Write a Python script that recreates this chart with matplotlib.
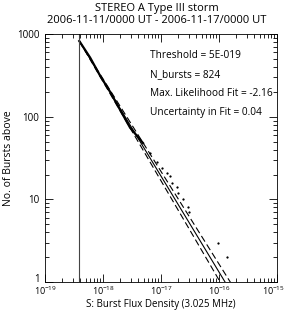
import numpy as np
import matplotlib.pyplot as plt
import matplotlib.transforms as mtransforms
from matplotlib.ticker import LogLocator, NullFormatter, FixedLocator

# cumulative distribution
curve_flux = [3.9e-19, 6.0e-19, 8.9e-19, 1.32e-18, 1.96e-18, 2.92e-18, 4.9e-18]
curve_count = [824, 519, 314, 201, 122, 74, 48]

tail_flux = [6.46e-18, 8.5e-18, 1.04e-17, 1.27e-17, 1.43e-17, 1.55e-17, 1.89e-17,
             1.96e-17, 2.39e-17, 2.92e-17, 2.99e-17, 9.6e-17, 1.37e-16]
tail_count = [36, 28, 24, 21, 19, 16, 14, 12, 10, 8, 7, 3, 2]

threshold = 3.9e-19
n_bursts = 824
fit_index = 2.16
fit_err = 0.04

x_ticks = [1e-19, 1e-18, 1e-17, 1e-16, 1e-15]
x_labels = ['$10^{-19}$', '$10^{-18}$', '$10^{-17}$', '$10^{-16}$', '$10^{-15}$']
y_ticks = [1, 10, 100, 1000]
y_labels = ['1', '10', '100', '1000']

plt.rcParams['font.family'] = ['Open Sans', 'DejaVu Sans']
plt.rcParams['mathtext.fontset'] = 'custom'
plt.rcParams['mathtext.rm'] = 'Open Sans'
plt.rcParams['mathtext.it'] = 'Open Sans'

fig = plt.figure(figsize=(2.85, 3.10), dpi=100)
ax = fig.add_axes([0.158, 0.090, 0.814, 0.800])

ax.set_xscale('log')
ax.set_yscale('log')
ax.set_xlim(1e-19, 1e-15)
ax.set_ylim(1, 1000)

# fit lines pivoting at the threshold
s = np.array([threshold, 1e-15])
for idx, style in [(fit_index, '-'), (fit_index - fit_err, '--'), (fit_index + fit_err, '--')]:
    ax.plot(s, n_bursts * (s / threshold) ** (1 - idx), style, color='black',
            lw=0.8, dashes=(6, 3) if style == '--' else (None, None))

ax.plot(curve_flux, curve_count, color='black', lw=1.6)
ax.plot(tail_flux, tail_count, ls='none', marker='s', ms=0.6, color='black')
ax.axvline(threshold, color='#444444', lw=0.8)

ax.xaxis.set_major_locator(FixedLocator(x_ticks))
ax.set_xticklabels(x_labels)
ax.yaxis.set_major_locator(FixedLocator(y_ticks))
ax.set_yticklabels(y_labels)
ax.xaxis.set_minor_locator(LogLocator(base=10, subs=np.arange(2, 10)))
ax.yaxis.set_minor_locator(LogLocator(base=10, subs=np.arange(2, 10)))
ax.xaxis.set_minor_formatter(NullFormatter())
ax.yaxis.set_minor_formatter(NullFormatter())
ax.tick_params(which='both', direction='in', top=True, right=True, width=0.6)
ax.tick_params(which='major', length=6)
ax.tick_params(which='minor', length=3)
ax.tick_params(axis='x', pad=2, labelsize=6.5)
ax.tick_params(axis='y', pad=4, labelsize=7)
for sp in ax.spines.values():
    sp.set_linewidth(0.6)

# "1" sits a little above the corner so it clears the x labels
ax.get_yticklabels()[0].set_verticalalignment('baseline')

# last x label sits flush with the right edge, as in the original
last = ax.get_xticklabels()[-1]
last.set_horizontalalignment('right')
last.set_transform(last.get_transform() + mtransforms.ScaledTranslation(0.08, 0, fig.dpi_scale_trans))

ax.set_xlabel('S: Burst Flux Density (3.025 MHz)', fontsize=7)
ax.xaxis.set_label_coords(0.5, -0.068)
ax.set_ylabel('No. of Bursts above', fontsize=7.5, labelpad=2)
fig.text(0.55, 0.99, 'STEREO A Type III storm', ha='center', va='top', fontsize=8)
fig.text(0.55, 0.952, '2006-11-11/0000 UT - 2006-11-17/0000 UT', ha='center', va='top', fontsize=8)

info = ['Threshold = 5E-019', 'N_bursts = 824', 'Max. Likelihood Fit = -2.16',
        'Uncertainty in Fit = 0.04']
for i, t in enumerate(info):
    ax.text(0.453, 0.915 - i * 0.077, t, transform=ax.transAxes, fontsize=7.3, va='center')

fig.savefig('out.png', dpi=100)
